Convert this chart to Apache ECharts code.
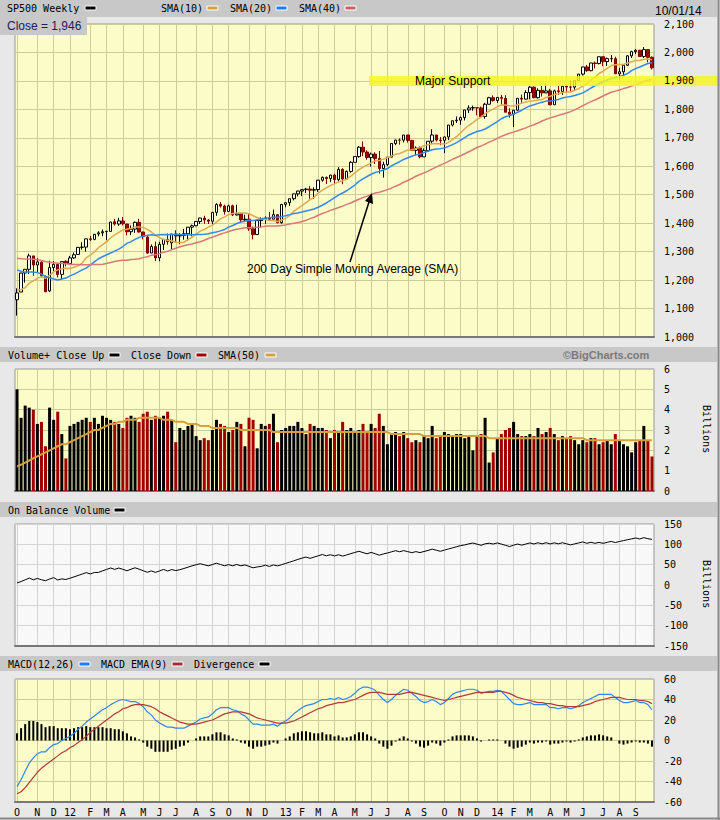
<!DOCTYPE html>
<html>
<head>
<meta charset="utf-8">
<script src="https://cdn.jsdelivr.net/npm/echarts@6/dist/echarts.min.js"></script>
<style>
  html, body { margin: 0; padding: 0; background: #e8e8e8; }
  #chart { width: 720px; height: 820px; }
</style>
</head>
<body>
<div id="chart"></div>
<script>
// weekly bars, Monday of each week
const weeks = [
  '2011-10-03','2011-10-10','2011-10-17','2011-10-24','2011-10-31','2011-11-07','2011-11-14','2011-11-21','2011-11-28','2011-12-05','2011-12-12','2011-12-19','2011-12-26',
  '2012-01-02','2012-01-09','2012-01-16','2012-01-23','2012-01-30','2012-02-06','2012-02-13','2012-02-20','2012-02-27','2012-03-05','2012-03-12','2012-03-19','2012-03-26',
  '2012-04-02','2012-04-09','2012-04-16','2012-04-23','2012-04-30','2012-05-07','2012-05-14','2012-05-21','2012-05-28','2012-06-04','2012-06-11','2012-06-18','2012-06-25',
  '2012-07-02','2012-07-09','2012-07-16','2012-07-23','2012-07-30','2012-08-06','2012-08-13','2012-08-20','2012-08-27','2012-09-03','2012-09-10','2012-09-17','2012-09-24',
  '2012-10-01','2012-10-08','2012-10-15','2012-10-22','2012-10-29','2012-11-05','2012-11-12','2012-11-19','2012-11-26','2012-12-03','2012-12-10','2012-12-17','2012-12-24','2012-12-31',
  '2013-01-07','2013-01-14','2013-01-21','2013-01-28','2013-02-04','2013-02-11','2013-02-18','2013-02-25','2013-03-04','2013-03-11','2013-03-18','2013-03-25',
  '2013-04-01','2013-04-08','2013-04-15','2013-04-22','2013-04-29','2013-05-06','2013-05-13','2013-05-20','2013-05-27','2013-06-03','2013-06-10','2013-06-17','2013-06-24',
  '2013-07-01','2013-07-08','2013-07-15','2013-07-22','2013-07-29','2013-08-05','2013-08-12','2013-08-19','2013-08-26','2013-09-02','2013-09-09','2013-09-16','2013-09-23','2013-09-30',
  '2013-10-07','2013-10-14','2013-10-21','2013-10-28','2013-11-04','2013-11-11','2013-11-18','2013-11-25','2013-12-02','2013-12-09','2013-12-16','2013-12-23','2013-12-30',
  '2014-01-06','2014-01-13','2014-01-20','2014-01-27','2014-02-03','2014-02-10','2014-02-17','2014-02-24','2014-03-03','2014-03-10','2014-03-17','2014-03-24','2014-03-31',
  '2014-04-07','2014-04-14','2014-04-21','2014-04-28','2014-05-05','2014-05-12','2014-05-19','2014-05-26','2014-06-02','2014-06-09','2014-06-16','2014-06-23','2014-06-30',
  '2014-07-07','2014-07-14','2014-07-21','2014-07-28','2014-08-04','2014-08-11','2014-08-18','2014-08-25','2014-09-01','2014-09-08','2014-09-15','2014-09-22','2014-09-29'
];
const monthLabels = ['O','N','D','12','F','M','A','M','J','J','A','S','O','N','D','13','F','M','A','M','J','J','A','S','O','N','D','14','F','M','A','M','J','J','A','S'];

const opens = [
  1131,1158,1225,1238,1285,1253,1263,1212,1162,1244,1255,1220,1266,
  1258,1278,1290,1315,1316,1345,1343,1362,1366,1370,1371,1405,1397,
  1408,1397,1370,1379,1403,1369,1351,1295,1318,1278,1326,1343,1331,
  1362,1355,1357,1363,1386,1391,1406,1418,1411,1407,1438,1466,1460,
  1441,1461,1429,1433,1412,1414,1380,1360,1409,1416,1418,1414,1430,
  1402,1466,1472,1486,1503,1513,1518,1520,1516,1518,1551,1561,1557,
  1569,1553,1589,1555,1582,1614,1634,1667,1650,1631,1643,1627,1592,
  1606,1632,1680,1692,1692,1710,1691,1656,1664,1633,1655,1688,1710,
  1692,1691,1703,1745,1760,1762,1771,1798,1805,1806,1805,1775,1818,
  1841,1831,1842,1839,1790,1783,1797,1839,1836,1859,1878,1841,1867,
  1858,1865,1816,1865,1863,1881,1878,1878,1901,1924,1949,1936,1963,
  1961,1985,1968,1978,1978,1925,1932,1955,1988,2003,2008,1986,2010,
  1983
];
const highs = [
  1171,1224,1239,1293,1285,1277,1266,1216,1268,1267,1256,1265,1270,
  1285,1297,1316,1333,1346,1355,1362,1372,1378,1374,1405,1415,1419,
  1422,1397,1392,1406,1415,1370,1359,1325,1335,1335,1344,1364,1362,
  1375,1365,1380,1386,1395,1408,1419,1426,1414,1438,1470,1474,1465,
  1465,1465,1465,1434,1430,1433,1388,1410,1421,1424,1439,1448,1430,
  1467,1473,1486,1504,1514,1518,1524,1530,1526,1552,1564,1564,1570,
  1574,1597,1593,1585,1618,1635,1671,1687,1656,1648,1649,1654,1616,
  1632,1680,1693,1698,1710,1710,1692,1670,1670,1663,1688,1730,1710,
  1703,1704,1745,1760,1775,1775,1798,1814,1813,1806,1810,1823,1844,
  1849,1843,1851,1850,1804,1798,1839,1852,1867,1883,1881,1874,1883,
  1891,1872,1869,1884,1884,1885,1902,1901,1924,1949,1956,1963,1968,
  1985,1985,1982,1991,1985,1946,1955,1991,2006,2011,2008,2019,2010,
  1986
];
const lows = [
  1075,1158,1191,1221,1215,1226,1209,1158,1158,1231,1209,1202,1248,
  1258,1275,1290,1307,1300,1337,1340,1354,1354,1340,1371,1392,1391,
  1392,1357,1358,1366,1367,1343,1292,1295,1267,1266,1306,1324,1309,
  1334,1326,1342,1338,1354,1389,1397,1398,1397,1396,1426,1455,1430,
  1439,1425,1427,1403,1407,1373,1343,1360,1385,1398,1411,1413,1399,
  1398,1456,1461,1480,1494,1495,1506,1486,1485,1510,1546,1538,1545,
  1539,1548,1537,1554,1577,1614,1630,1636,1623,1599,1608,1574,1560,
  1601,1632,1674,1676,1684,1683,1655,1639,1628,1633,1655,1680,1687,
  1674,1646,1692,1740,1752,1746,1761,1787,1795,1779,1771,1767,1818,
  1827,1823,1815,1790,1771,1738,1795,1820,1834,1835,1839,1838,1845,
  1857,1815,1816,1851,1851,1860,1863,1868,1901,1919,1932,1934,1944,
  1958,1952,1953,1966,1925,1905,1920,1953,1981,1994,1985,1980,1965,
  1940
];
const closes = [
  1155,1225,1238,1285,1253,1264,1216,1159,1244,1255,1220,1265,1258,
  1278,1289,1315,1316,1345,1343,1361,1366,1370,1371,1404,1397,1408,
  1398,1370,1379,1403,1369,1353,1295,1318,1278,1326,1343,1335,1362,
  1355,1357,1363,1386,1391,1406,1418,1411,1407,1438,1466,1460,1441,
  1461,1429,1433,1412,1414,1380,1360,1409,1416,1418,1414,1430,1402,
  1466,1472,1486,1503,1513,1518,1520,1516,1518,1551,1561,1557,1569,
  1553,1589,1555,1582,1614,1634,1667,1650,1631,1643,1627,1592,1606,
  1632,1680,1692.1,1691.7,1710,1691,1656,1664,1633,1655,1688,1710,1692,
  1691,1703,1745,1760,1762,1771,1798,1805,1806,1805,1775,1818,1841,
  1831,1842,1839,1790,1783,1797,1839,1836,1859,1878,1841,1867,1858,
  1865,1816,1865,1863,1881,1878.5,1877.9,1901,1924,1949,1936,1963,1961,
  1985,1968,1978.2,1978.3,1925,1932,1955,1988,2003,2008,1986,2010,1983,
  1946
];
const sma10 = [
  1165,1167,1173,1189,1197,1206,1212,1206,1217,1229,1236,1240,1242,
  1241,1245,1250,1260,1279,1288,1299,1314,1324,1335,1348,1359,1368,
  1376,1379,1382,1387,1387,1385,1378,1369,1357,1349,1343,1340,1338,
  1333,1332,1333,1342,1350,1362,1372,1378,1386,1393,1404,1415,1422,
  1430,1434,1436,1436,1436,1433,1426,1420,1416,1413,1409,1409,1406,
  1411,1417,1427,1442,1452,1462,1472,1483,1491,1506,1516,1524,1533,
  1538,1545,1549,1555,1565,1577,1588,1597,1604,1612,1619,1620,1625,
  1630,1636,1642,1645,1651,1657,1658,1662,1666,1671,1676,1679,1679,
  1679,1678,1684,1694,1704,1718,1732,1744,1753,1765,1773,1785,1794,
  1801,1809,1816,1815,1813,1812,1816,1822,1826,1829,1830,1833,1835,
  1842,1846,1852,1855,1859,1861,1861,1867,1873,1882,1889,1904,1913,
  1926,1934,1944,1954,1957,1958,1958,1963,1967,1972,1972,1976,1977,
  1974
];
const sma20 = [
  1236,1231,1228,1228,1228,1227,1221,1212,1208,1204,1200,1204,1207,
  1215,1221,1228,1236,1242,1253,1264,1275,1282,1289,1295,1302,1309,
  1318,1329,1335,1343,1350,1355,1357,1359,1358,1359,1360,1359,1360,
  1360,1360,1359,1360,1359,1360,1360,1361,1363,1366,1369,1373,1378,
  1386,1392,1399,1404,1407,1410,1409,1412,1415,1418,1419,1421,1421,
  1423,1426,1430,1434,1436,1439,1443,1446,1450,1456,1463,1471,1480,
  1490,1499,1506,1514,1524,1534,1547,1556,1564,1572,1578,1582,1587,
  1592,1601,1609,1616,1624,1630,1635,1640,1643,1648,1653,1658,1661,
  1662,1664,1670,1676,1683,1692,1701,1710,1716,1722,1726,1731,1739,
  1748,1757,1767,1774,1778,1783,1790,1797,1805,1812,1816,1821,1825,
  1829,1829,1832,1835,1840,1843,1845,1849,1853,1858,1866,1875,1883,
  1890,1897,1903,1908,1912,1915,1920,1926,1936,1943,1949,1955,1961,
  1964
];
const sma40 = [
  1277,1275,1274,1274,1273,1272,1269,1265,1263,1261,1259,1259,1257,
  1256,1255,1255,1254,1254,1254,1255,1255,1256,1258,1262,1265,1268,
  1270,1270,1272,1273,1275,1279,1282,1287,1289,1293,1298,1301,1307,
  1312,1317,1321,1324,1327,1331,1335,1340,1346,1351,1356,1362,1366,
  1371,1375,1379,1381,1384,1384,1385,1386,1387,1389,1390,1390,1390,
  1392,1394,1397,1400,1402,1406,1410,1416,1421,1428,1434,1439,1445,
  1450,1455,1460,1466,1471,1478,1484,1490,1495,1501,1506,1509,1513,
  1518,1523,1530,1536,1544,1550,1557,1565,1571,1577,1583,1591,1597,
  1604,1610,1617,1624,1631,1637,1644,1651,1658,1666,1671,1678,1685,
  1691,1698,1705,1711,1716,1720,1725,1730,1735,1741,1746,1752,1759,
  1765,1770,1774,1779,1783,1787,1792,1798,1805,1813,1820,1827,1833,
  1840,1847,1854,1860,1864,1868,1873,1877,1882,1887,1892,1898,1902,
  1905
];

// volume, billions
const volume = [
  5.0,3.6,4.2,4.1,4.0,3.3,3.4,2.2,4.1,3.5,3.9,2.8,1.6,
  3.2,3.3,3.4,3.5,3.6,3.4,3.6,3.3,3.7,3.6,3.5,3.4,3.3,
  3.1,3.6,3.7,3.6,3.4,3.8,3.9,3.5,3.7,3.6,3.7,3.9,3.5,
  2.4,3.1,3.0,3.2,3.3,2.7,2.5,2.6,2.5,3.0,3.5,3.3,3.2,
  2.9,3.0,3.4,3.3,2.2,3.6,3.5,2.1,3.3,3.2,3.3,3.8,2.4,
  3.0,3.1,3.2,3.2,3.4,3.1,2.8,3.3,3.2,3.1,3.1,3.0,2.6,
  3.0,2.9,3.4,3.0,3.1,2.9,3.0,3.3,2.9,3.3,3.1,3.8,3.2,
  2.3,2.8,2.9,2.7,2.9,2.6,2.4,2.5,2.4,2.7,2.6,3.2,2.6,
  2.7,2.9,2.8,2.7,2.8,2.8,2.6,2.7,2.0,2.7,2.8,3.6,1.4,
  1.9,2.6,2.8,3.0,3.1,3.4,2.8,2.7,2.7,2.8,2.7,3.1,2.8,
  2.9,3.1,2.8,2.5,2.7,2.6,2.7,2.5,2.3,2.5,2.4,2.6,2.6,
  2.3,2.4,2.5,2.3,2.8,2.5,2.3,2.2,1.9,2.4,2.5,3.2,2.5,
  1.7
];
const volSma50 = [
  1.2,1.3,1.4,1.5,1.6,1.7,1.8,1.9,2.0,2.1,2.2,2.3,2.3,
  2.4,2.5,2.6,2.7,2.8,2.9,3.0,3.0,3.1,3.2,3.3,3.3,3.4,
  3.4,3.5,3.5,3.5,3.6,3.6,3.6,3.6,3.6,3.6,3.5,3.5,3.5,
  3.4,3.4,3.4,3.3,3.3,3.3,3.2,3.2,3.2,3.1,3.1,3.1,3.1,
  3.1,3.1,3.1,3.0,3.0,3.0,3.0,3.0,3.0,3.0,3.0,2.9,2.9,
  2.9,2.9,2.9,2.9,2.9,2.9,2.9,2.9,2.9,2.9,2.9,2.9,2.9,
  2.9,2.9,2.9,2.9,2.9,2.9,2.9,2.9,2.9,2.9,2.9,2.9,2.9,
  2.9,2.8,2.8,2.8,2.8,2.8,2.8,2.8,2.8,2.7,2.7,2.7,2.7,
  2.7,2.7,2.7,2.7,2.7,2.7,2.7,2.7,2.7,2.7,2.7,2.7,2.6,
  2.6,2.6,2.6,2.6,2.6,2.6,2.6,2.6,2.6,2.6,2.6,2.6,2.6,
  2.6,2.6,2.6,2.6,2.6,2.6,2.6,2.6,2.6,2.6,2.5,2.5,2.5,
  2.5,2.5,2.5,2.5,2.5,2.5,2.5,2.5,2.5,2.5,2.5,2.5,2.5,
  2.5
];
const obv = [
  5.0,8.6,12.8,16.9,12.9,16.2,12.8,10.6,14.7,18.2,
  12.3,15.1,13.5,16.7,20.0,23.4,26.9,30.5,27.1,30.7,
  31.0,34.7,38.3,41.8,38.4,41.7,38.6,35.0,38.7,42.3,38.9,35.1,31.2,34.7,31.0,34.6,38.3,34.4,37.9,35.5,
  37.6,40.6,43.8,47.1,49.8,52.3,49.7,47.2,50.2,53.7,50.4,47.2,50.1,47.1,50.5,47.2,49.4,45.8,42.3,44.4,
  45.7,48.9,45.6,49.4,47.0,50.0,53.1,56.3,59.5,62.9,66.0,68.8,65.5,68.7,71.8,74.9,71.9,74.5,71.5,74.4,
  71.0,74.0,77.1,80.0,83.0,79.7,76.8,80.1,77.0,73.2,76.4,78.7,81.5,84.4,81.7,84.6,82.0,79.6,82.1,79.7,
  82.4,85.0,88.2,85.6,82.9,85.8,88.6,91.3,94.1,96.9,
  98.5,101.2,103.2,100.5,97.7,101.3,102.7,100.8,103.4,100.6,97.6,94.5,97.9,100.7,98.0,
  100.7,103.5,100.8,103.9,101.1,104.0,100.9,103.7,101.2,103.9,101.3,98.6,101.1,103.4,105.9,
  102.5,105.1,102.5,104.8,102.4,104.9,107.2,104.4,106.9,109.2,111.4,113.3,115.7,113.2,116.4,113.9,
  112.2
];
const macd = [
  -45,-38,-30,-22,-17,-13,-11,-11,-7,-4,-3,0,2,
  4,7,11,14,18,21,24,27,30,32,35,37,39,
  40,39,38,38,36,33,28,25,20,17,15,13,13,
  12,12,12,14,16,18,21,22,23,26,30,32,32,
  32,30,29,26,24,20,16,16,15,15,15,16,14,
  17,19,22,26,29,32,34,35,36,38,40,40,41,
  40,42,40,41,43,46,50,52,52,51,49,44,40,
  37,40,44,47,50,49,46,43,39,37,38,40,38,
  35,37,41,45,47,48,49,50,50,49,46,47,48,
  48,49,48,44,40,36,35,35,36,37,35,35,35,
  35,32,32,31,32,32,31,32,34,37,39,41,43,
  45,45,45,45,42,39,37,37,38,39,37,37,35,
  30
];
const macdSignal = [
  -52,-50,-46,-41,-36,-31,-27,-24,-21,-18,-15,-12,-10,
  -7,-5,-2,1,4,8,11,14,17,20,23,26,28,
  31,32,34,35,35,35,34,33,31,28,26,24,22,
  20,18,17,16,16,16,17,18,19,20,22,24,26,
  27,28,28,28,27,26,24,22,21,20,19,18,17,
  17,17,18,19,21,23,25,27,29,31,32,34,35,
  36,37,37,38,39,40,42,44,46,47,47,47,46,
  45,45,45,45,46,47,47,46,45,44,43,42,41,
  40,39,40,41,42,43,44,45,46,47,47,47,47,
  47,48,48,47,46,44,42,41,40,39,38,37,37,
  36,36,35,34,34,33,33,33,33,34,35,36,38,
  39,40,41,42,42,42,41,40,40,40,39,39,38,
  36
];
const macdDiv = [
  7,12,16,19,19,18,16,13,14,14,12,12,12,
  11,12,13,13,14,13,13,13,13,12,12,11,11,
  9,7,4,3,1,-2,-6,-8,-11,-11,-11,-11,-9,
  -8,-6,-5,-2,0,2,4,4,4,6,8,8,6,
  5,2,1,-2,-3,-6,-8,-6,-6,-5,-4,-2,-3,
  0,2,4,7,8,9,9,8,7,7,8,6,6,
  4,5,3,3,4,6,8,8,6,4,2,-3,-6,
  -8,-5,-1,2,4,2,-1,-3,-6,-7,-5,-2,-3,
  -5,-2,1,4,5,5,5,5,4,2,-1,0,1,
  1,1,0,-3,-6,-8,-7,-6,-4,-2,-3,-2,-2,
  -1,-4,-3,-3,-2,-1,-2,-1,1,3,4,5,5,
  6,5,4,3,0,-3,-4,-3,-2,-1,-2,-2,-3,
  -6
];

// first week of every month gets a grid line and a label
const monthStart = weeks.map((w, i) => i === 0 || w.slice(5, 7) !== weeks[i - 1].slice(5, 7));
const labelAt = {};
let m = 0;
monthStart.forEach((s, i) => { if (s) labelAt[i] = monthLabels[m++]; });

const MONO = '"DejaVu Sans Mono", monospace';
const SANS = '"Liberation Sans", Arial, sans-serif';
const gridLine = '#cccc99';
const yellow = '#fcfcc8';

const chart = echarts.init(document.getElementById('chart'), null, { renderer: 'svg' });

function xAxisFor(i, withLabels) {
  return {
    type: 'category', gridIndex: i, data: weeks, boundaryGap: true,
    axisLine: { show: true, onZero: false, lineStyle: { color: '#777', width: 2 } },
    axisTick: { show: false },
    axisLabel: withLabels ? {
      interval: (idx) => monthStart[idx],
      formatter: (v, idx) => labelAt[idx] || '',
      fontFamily: MONO, fontSize: 10, color: '#000', margin: 5
    } : { show: false },
    splitLine: {
      show: true, interval: (idx) => monthStart[idx], alignWithLabel: true,
      lineStyle: { color: i === 2 ? '#d4d4d4' : gridLine, width: 1 }
    }
  };
}
function yAxisFor(i, min, max, step, opts) {
  return Object.assign({
    type: 'value', gridIndex: i, position: 'right', min, max, interval: step,
    axisLine: { show: false }, axisTick: { show: false },
    axisLabel: { fontFamily: MONO, fontSize: 10, color: '#000', margin: 10, align: 'left' },
    splitLine: { show: true, lineStyle: { color: i === 2 ? '#d4d4d4' : gridLine, width: 1 } }
  }, opts || {});
}

const text = (x, y, s, extra) => ({
  type: 'text', x, y, z: 20,
  style: Object.assign({ text: s, font: '10px ' + MONO, fill: '#000', textVerticalAlign: 'middle', verticalAlign: 'middle' }, extra || {})
});
const swatch = (x, y, color) => ({
  type: 'rect', z: 20, shape: { x, y: y - 2, width: 11, height: 4 },
  style: { fill: color, stroke: '#fff', lineWidth: 1 }
});
const band = (y, h) => ({ type: 'rect', z: 1, shape: { x: 0, y, width: 717, height: h }, style: { fill: '#c8c8c8' } });

chart.setOption({
  animation: false,
  backgroundColor: '#e8e8e8',
  grid: [
    { left: 15, top: 24, width: 639, height: 313, show: true, backgroundColor: yellow, borderColor: '#999', borderWidth: 1 },
    { left: 15, top: 369, width: 639, height: 122, show: true, backgroundColor: yellow, borderColor: '#999', borderWidth: 1 },
    { left: 15, top: 524, width: 639, height: 122, show: true, backgroundColor: '#f8f8f8', borderColor: '#999', borderWidth: 1 },
    { left: 15, top: 679, width: 639, height: 123, show: true, backgroundColor: yellow, borderColor: '#999', borderWidth: 1 }
  ],
  xAxis: [xAxisFor(0, false), xAxisFor(1, false), xAxisFor(2, false), xAxisFor(3, true)],
  yAxis: [
    yAxisFor(0, 1000, 2100, 100, { axisLabel: { show: false } }),
    yAxisFor(0, 1000, 2100, 100, {
      z: 6, splitLine: { show: false },
      axisLabel: { fontFamily: MONO, fontSize: 10, color: '#000', margin: 10, align: 'left',
        formatter: (v) => v.toLocaleString('en-US') }
    }),
    yAxisFor(1, 0, 6, 1),
    yAxisFor(2, -150, 150, 50),
    yAxisFor(3, -60, 60, 20)
  ],
  series: [
    {
      name: 'SP500 Weekly', type: 'candlestick', xAxisIndex: 0, yAxisIndex: 0, barWidth: 3,
      data: weeks.map((w, i) => [opens[i], closes[i], lows[i], highs[i]]),
      itemStyle: { color: '#ffffff', color0: '#a00000', borderColor: '#000', borderColor0: '#7a0000', borderWidth: 1 }
    },
    { name: 'SMA(10)', type: 'line', xAxisIndex: 0, yAxisIndex: 0, data: sma10, symbol: 'none', lineStyle: { color: '#dcaa50', width: 1.5 } },
    { name: 'SMA(20)', type: 'line', xAxisIndex: 0, yAxisIndex: 0, data: sma20, symbol: 'none', lineStyle: { color: '#3388f0', width: 1.5 } },
    { name: 'SMA(40)', type: 'line', xAxisIndex: 0, yAxisIndex: 0, data: sma40, symbol: 'none', lineStyle: { color: '#d87878', width: 1.5 } },
    {
      name: 'Volume', type: 'bar', xAxisIndex: 1, yAxisIndex: 2, barWidth: 3,
      data: volume.map((v, i) => ({
        value: v,
        itemStyle: { color: closes[i] >= (i > 0 ? closes[i - 1] : opens[0]) ? '#000' : '#a00000' }
      }))
    },
    { name: 'SMA(50)', type: 'line', xAxisIndex: 1, yAxisIndex: 2, data: volSma50, symbol: 'none', lineStyle: { color: '#d4a040', width: 2 } },
    { name: 'On Balance Volume', type: 'line', xAxisIndex: 2, yAxisIndex: 3, data: obv, symbol: 'none', lineStyle: { color: '#000', width: 1 } },
    { name: 'Divergence', type: 'bar', xAxisIndex: 3, yAxisIndex: 4, data: macdDiv, barWidth: 2, itemStyle: { color: '#000' } },
    { name: 'MACD(12,26)', type: 'line', xAxisIndex: 3, yAxisIndex: 4, data: macd, symbol: 'none', lineStyle: { color: '#2f86f0', width: 1.2 } },
    { name: 'MACD EMA(9)', type: 'line', xAxisIndex: 3, yAxisIndex: 4, data: macdSignal, symbol: 'none', lineStyle: { color: '#b03a3a', width: 1.2 } }
  ],
  graphic: [
    // header strips
    band(0, 17), band(347, 15), band(502, 15), band(656, 15),
    text(7, 8, 'SP500 Weekly'), swatch(85, 8, '#000'),
    text(161, 8, 'SMA(10)'), swatch(207, 8, '#d4a040'),
    text(230, 8, 'SMA(20)'), swatch(276, 8, '#1a7cff'),
    text(299, 8, 'SMA(40)'), swatch(345, 8, '#d06060'),
    text(655, 11, '10/01/14', { font: '12px ' + SANS }),
    text(8, 355, 'Volume+ Close Up'), swatch(109, 355, '#000'),
    text(131, 355, 'Close Down'), swatch(196, 355, '#a00000'),
    text(218, 355, 'SMA(50)'), swatch(265, 355, '#d4a040'),
    text(563, 355, '\u00a9BigCharts.com', { font: 'bold 11px ' + SANS, fill: '#7a7a7a' }),
    text(8, 510, 'On Balance Volume'), swatch(114, 510, '#000'),
    text(8, 664, 'MACD(12,26)'), swatch(79, 664, '#1a7cff'),
    text(101, 664, 'MACD EMA(9)'), swatch(172, 664, '#a03030'),
    text(194, 664, 'Divergence'), swatch(259, 664, '#000'),
    // close box
    { type: 'rect', z: 20, shape: { x: 0, y: 17, width: 87, height: 18 }, style: { fill: '#c8c8c8' } },
    text(7, 26, 'Close = 1,946', { font: '12px ' + SANS, fill: '#20205a', z: 21 }),
    // major support highlight
    { type: 'rect', z: 4, shape: { x: 369, y: 76, width: 351, height: 10 }, style: { fill: 'rgba(245,245,30,0.82)' } },
    text(415, 81, 'Major Support', { font: '12px ' + SANS }),
    // 200 day SMA note
    text(247, 269, '200 Day Simple Moving Average (SMA)', { font: '12px ' + SANS }),
    { type: 'line', z: 20, shape: { x1: 350, y1: 262, x2: 369, y2: 202 }, style: { stroke: '#000', lineWidth: 1.5 } },
    { type: 'polygon', z: 20, shape: { points: [[372, 193], [373, 204], [365, 201]] }, style: { fill: '#000' } },
    // axis unit names
    { type: 'text', z: 20, x: 706, y: 405, rotation: -Math.PI / 2,
      style: { text: 'Billions', font: '10px ' + MONO, fill: '#000', textVerticalAlign: 'middle', verticalAlign: 'middle' } },
    { type: 'text', z: 20, x: 706, y: 560, rotation: -Math.PI / 2,
      style: { text: 'Billions', font: '10px ' + MONO, fill: '#000', textVerticalAlign: 'middle', verticalAlign: 'middle' } },
    // outer frame
    { type: 'line', z: 20, shape: { x1: 718.5, y1: 0, x2: 718.5, y2: 820 }, style: { stroke: '#888', lineWidth: 2 } },
    { type: 'line', z: 20, shape: { x1: 0, y1: 818.5, x2: 720, y2: 818.5 }, style: { stroke: '#888', lineWidth: 2 } }
  ]
});
</script>
</body>
</html>
